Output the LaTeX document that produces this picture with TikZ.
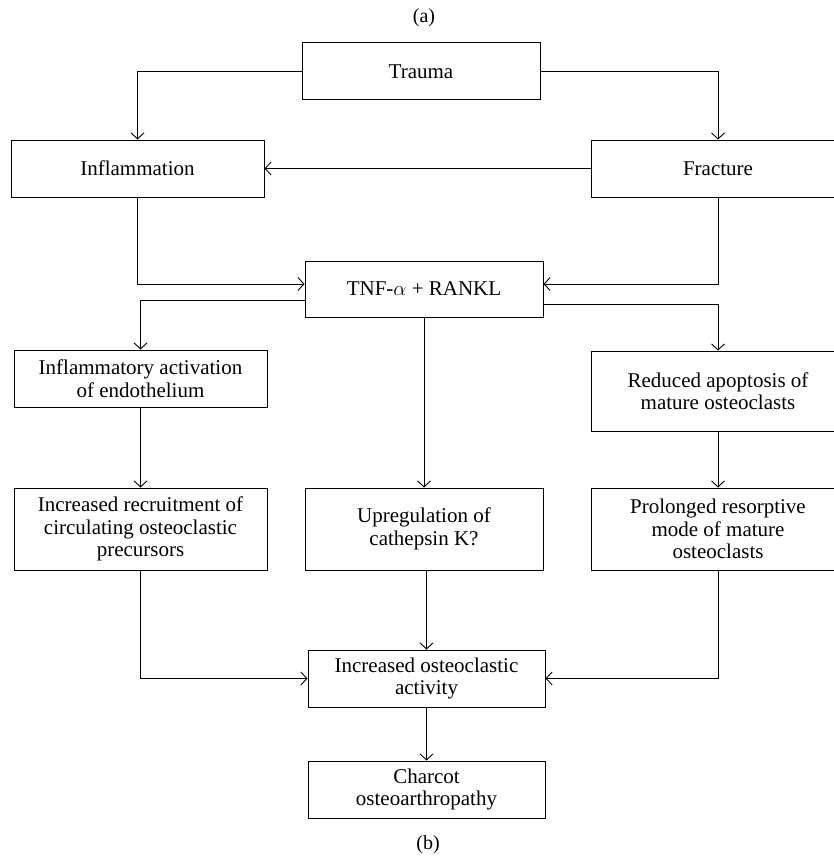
\documentclass[tikz,border=0pt]{standalone}
\usepackage{fontspec}
\setmainfont{Liberation Serif}
\usetikzlibrary{arrows.meta}
\begin{document}
\begin{tikzpicture}[x=1pt,y=-1pt,>={Straight Barb[length=6pt,width=13pt]},
box/.style={draw,line width=1pt,align=center,inner sep=2pt,font=\fontsize{21}{22.5}\selectfont},
link/.style={->,line width=0.9pt}]
\useasboundingbox (0,0) rectangle (834,856);
\node at (424,18)[font=\fontsize{20}{22}\selectfont]{(a)};
\node at (428,845)[font=\fontsize{20}{22}\selectfont]{(b)};
\node[box,minimum width=238,minimum height=57](Tra) at (421,71.5){Trauma};
\node[box,minimum width=253,minimum height=57](Inf) at (137.5,168.5){Inflammation};
\node[box,minimum width=254,minimum height=57](Fra) at (718,168.5){Fracture};
\node[box,minimum width=238,minimum height=56](Tnf) at (424,289){TNF-$\alpha$ + RANKL};
\node[box,minimum width=253,minimum height=57](End) at (140.5,378.5){Inflammatory activation\\of endothelium};
\node[box,minimum width=254,minimum height=80](Apo) at (718,391){Reduced apoptosis of\\mature osteoclasts};
\node[box,minimum width=253,minimum height=82](Rec) at (140.5,529){Increased recruitment of\\circulating osteoclastic\\precursors};
\node[box,minimum width=238,minimum height=82](Cat) at (424,529){Upregulation of\\cathepsin K?};
\node[box,minimum width=254,minimum height=82](Pro) at (718,529){Prolonged resorptive\\mode of mature\\osteoclasts};
\node[box,minimum width=237,minimum height=57](Act) at (426.5,678.5){Increased osteoclastic\\activity};
\node[box,minimum width=237,minimum height=57](Cha) at (426.5,789.5){Charcot\\osteoarthropathy};
\draw[link](Tra.west)-|(Inf.north);
\draw[link](Tra.east)-|(Fra.north);
\draw[link](Fra.west)--(Inf.east);
\draw[link](Inf.south)|-([yshift=5pt]Tnf.west);
\draw[link](Fra.south)|-([yshift=5pt]Tnf.east);
\draw[link]([yshift=-11pt]Tnf.west)-|(End.north);
\draw[link]([yshift=-15pt]Tnf.east)-|(Apo.north);
\draw[link](Tnf)--(Cat);
\draw[link](End)--(Rec);
\draw[link](Apo)--(Pro);
\draw[link](Rec.south)|-(Act.west);
\draw[link](Act.north|-Cat.south)--(Act.north);
\draw[link](Pro.south)|-(Act.east);
\draw[link](Act)--(Cha);
\end{tikzpicture}
\end{document}
